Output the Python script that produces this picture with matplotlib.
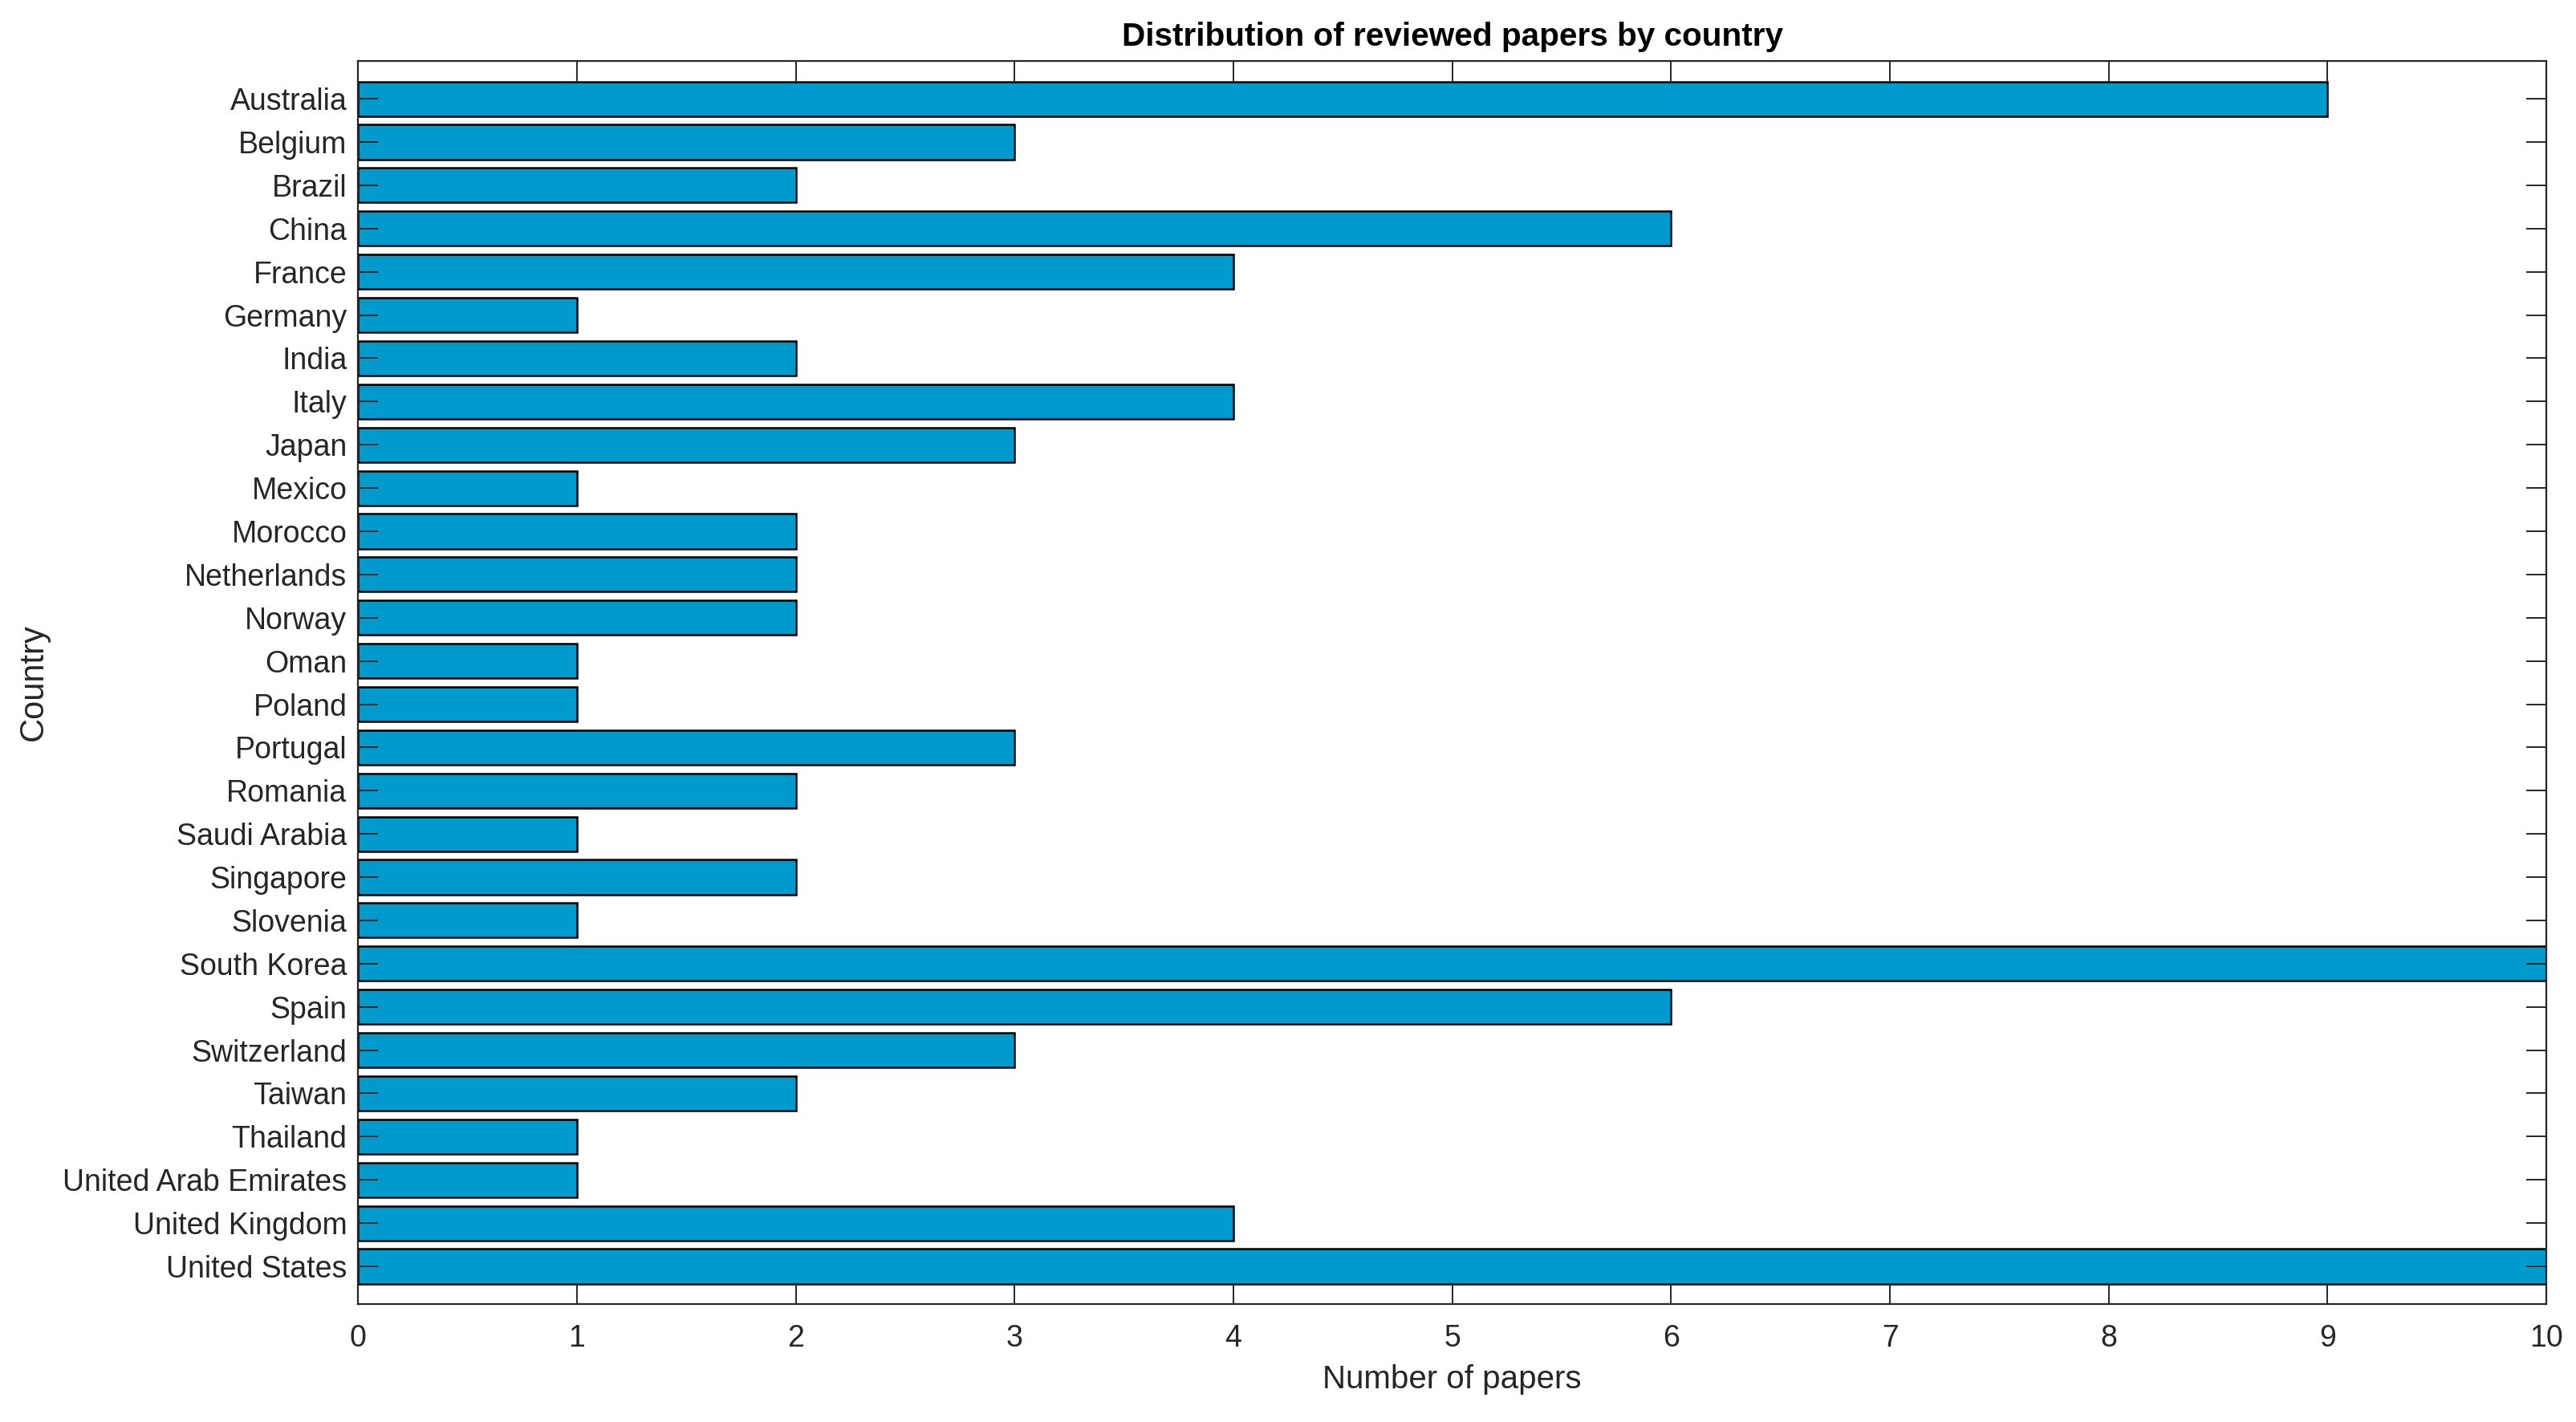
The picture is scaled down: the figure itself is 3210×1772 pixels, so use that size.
import matplotlib
matplotlib.use("Agg")
import matplotlib.pyplot as plt
from matplotlib import font_manager

countries = ["Australia", "Belgium", "Brazil", "China", "France", "Germany", "India",
             "Italy", "Japan", "Mexico", "Morocco", "Netherlands", "Norway", "Oman",
             "Poland", "Portugal", "Romania", "Saudi Arabia", "Singapore", "Slovenia",
             "South Korea", "Spain", "Switzerland", "Taiwan", "Thailand",
             "United Arab Emirates", "United Kingdom", "United States"]
papers = [9, 3, 2, 6, 4, 1, 2, 4, 3, 1, 2, 2, 2, 1, 1, 3, 2, 1, 2, 1,
          10, 6, 3, 2, 1, 1, 4, 10]
xticks = list(range(0, 11))

names = {f.name for f in font_manager.fontManager.ttflist}
fam = "Liberation Sans Narrow" if "Liberation Sans Narrow" in names else "Liberation Sans"
plt.rcParams['font.family'] = [fam, 'DejaVu Sans']

fig = plt.figure(figsize=(16.05, 8.86), dpi=200)
ax = fig.add_axes([0.139, 0.083, 0.8495, 0.874])

ypos = list(range(len(countries)))
ax.barh(ypos, papers, height=0.8, color="#009ACD", edgecolor="black", linewidth=0.9)

ax.set_xlim(0, 10)
ax.set_ylim(len(countries) - 1 + 0.87, -0.87)
ax.set_xticks(xticks)
ax.set_xticklabels([str(t) for t in xticks])
ax.set_yticks(ypos)
ax.set_yticklabels(countries)

tc = "#262626"
for s in ax.spines.values():
    s.set_color(tc)
    s.set_linewidth(0.8)
ax.tick_params(axis='both', direction='in', length=9, width=0.7, color=tc,
               labelcolor=tc, labelsize=13.5)
ax.tick_params(axis='x', top=True, pad=9)
ax.tick_params(axis='y', right=True, pad=5)

ax.set_title("Distribution of reviewed papers by country", fontsize=14.6,
             fontweight='bold', pad=7, color="black")
ax.set_xlabel("Number of papers", fontsize=14.5, color=tc, labelpad=5)
ax.set_ylabel("Country", fontsize=15, color=tc, labelpad=6)

fig.savefig("out.png", dpi=200)
